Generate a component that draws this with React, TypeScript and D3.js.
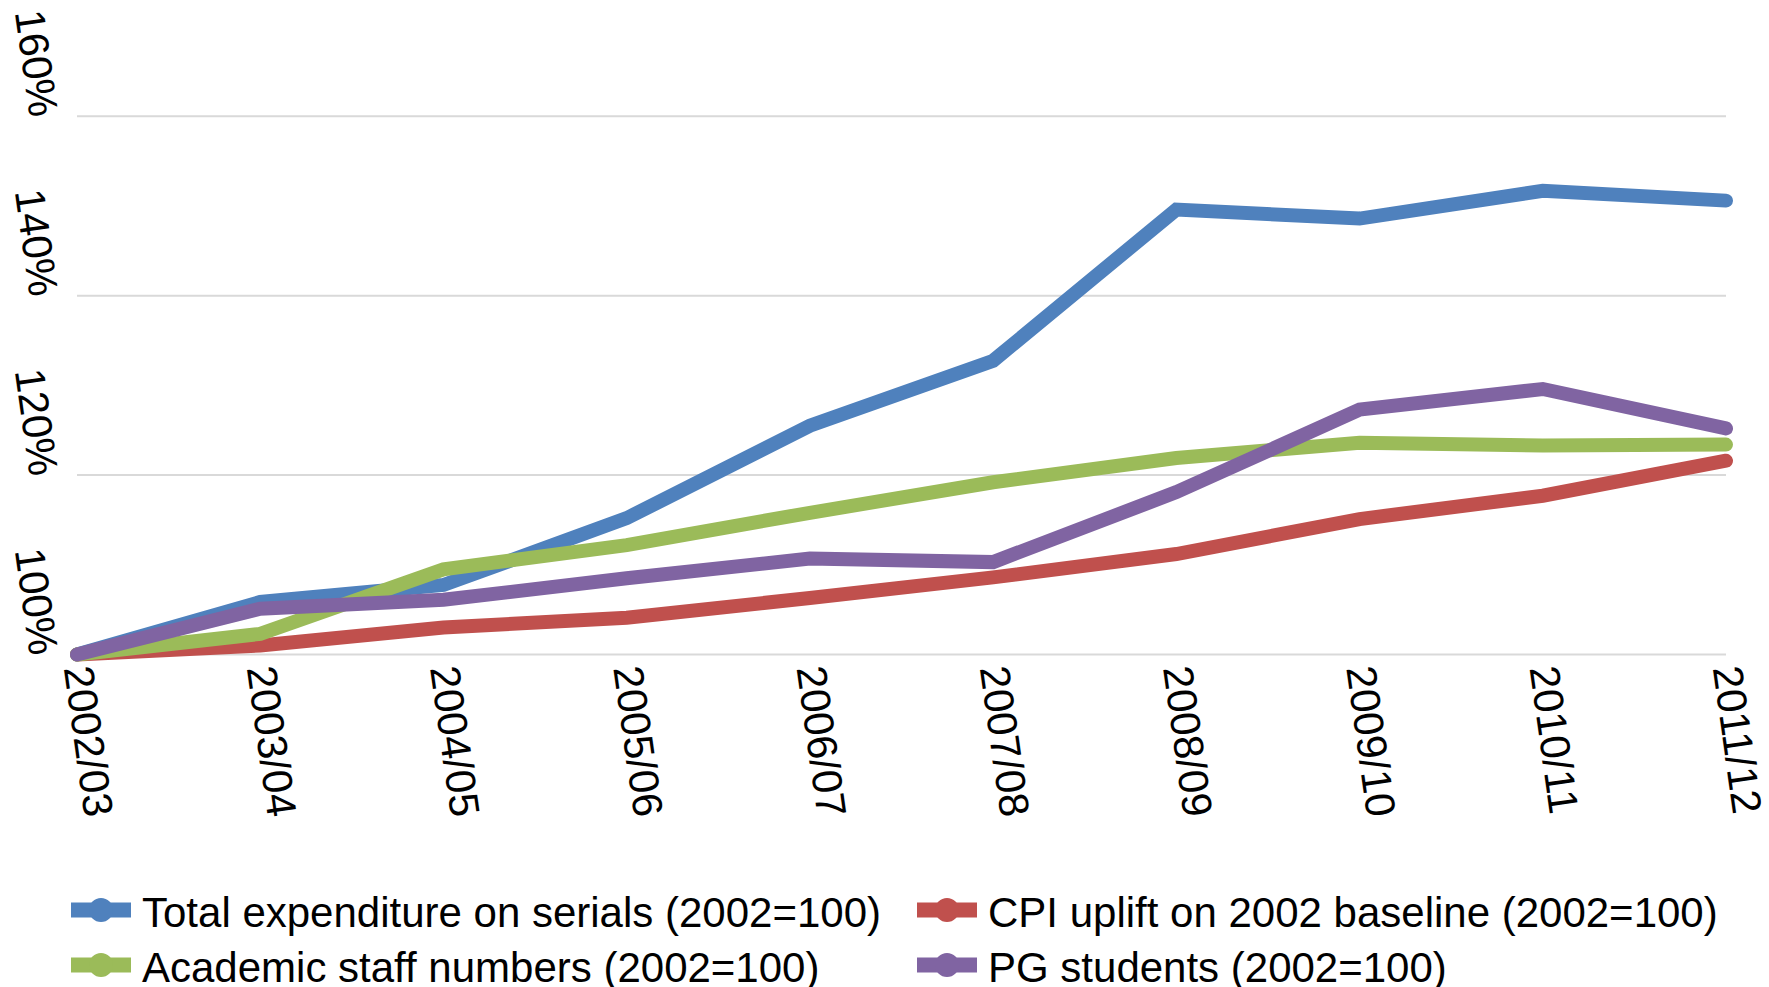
import React from "react";
import * as d3 from "d3";

const categories = ["2002/03","2003/04","2004/05","2005/06","2006/07","2007/08","2008/09","2009/10","2010/11","2011/12"];
const totalExpenditure = [100, 105.85, 107.75, 115.2, 125.5, 132.75, 149.6, 148.6, 151.7, 150.6];
const cpiUplift = [100, 101.0, 103.0, 104.1, 106.3, 108.6, 111.2, 115.1, 117.7, 121.6];
const academicStaff = [100, 102.3, 109.5, 112.2, 115.8, 119.2, 121.9, 123.6, 123.3, 123.4];
const pgStudents = [100, 105.1, 106.1, 108.5, 110.7, 110.3, 118.1, 127.3, 129.6, 125.2];
const yTicks = [100, 120, 140, 160];
const seriesNames = [
  "Total expenditure on serials (2002=100)",
  "CPI uplift on 2002 baseline (2002=100)",
  "Academic staff numbers (2002=100)",
  "PG students (2002=100)",
];
const seriesColors = ["#4F81BD", "#C0504D", "#9BBB59", "#8064A2"];

const W = 1769;
const H = 987;
const FONT = "'Liberation Sans', Arial, sans-serif";

export default function App() {
  const x = d3.scalePoint<string>().domain(categories).range([77, 1726]);
  const y = d3.scaleLinear().domain([100, 160]).range([654.5, 116.3]);
  const seriesData = [totalExpenditure, cpiUplift, academicStaff, pgStudents];
  const line = d3
    .line<number>()
    .x((_, i) => x(categories[i]) as number)
    .y((d) => y(d));

  const legendItems = [
    { i: 0, mx: 71, tx: 142, cy: 910 },
    { i: 1, mx: 917, tx: 988, cy: 910 },
    { i: 2, mx: 71, tx: 142, cy: 965 },
    { i: 3, mx: 917, tx: 988, cy: 965 },
  ];

  return (
    <svg
      width={W}
      height={H}
      style={{ position: "absolute", left: 0, top: 0, background: "#fff" }}
      fontFamily={FONT}
    >
      <rect x={0} y={0} width={W} height={H} fill="#fff" />
      {yTicks.map((t) => (
        <line
          key={"g" + t}
          x1={x(categories[0])}
          x2={x(categories[categories.length - 1])}
          y1={y(t)}
          y2={y(t)}
          stroke="#d9d9d9"
          strokeWidth={2}
        />
      ))}
      {yTicks.map((t) => (
        <text
          key={"yl" + t}
          transform={`translate(44,${y(t)}) rotate(82)`}
          textAnchor="end"
          dominantBaseline="central"
          fontSize={42}
          fill="#000"
        >
          {t + "%"}
        </text>
      ))}
      {categories.map((c) => (
        <text
          key={"xl" + c}
          transform={`translate(${(x(c) as number) + 1},666) rotate(82)`}
          textAnchor="start"
          dominantBaseline="central"
          fontSize={42}
          fill="#000"
        >
          {c}
        </text>
      ))}
      {seriesData.map((s, i) => (
        <path
          key={"s" + i}
          d={line(s) || ""}
          fill="none"
          stroke={seriesColors[i]}
          strokeWidth={14}
          strokeLinecap="round"
          strokeLinejoin="miter"
        />
      ))}
      {legendItems.map((it) => (
        <g key={"lg" + it.i}>
          <rect x={it.mx} y={it.cy - 7.5} width={60} height={15} fill={seriesColors[it.i]} />
          <circle cx={it.mx + 30} cy={it.cy} r={12} fill={seriesColors[it.i]} />
          <text x={it.tx} y={it.cy + 16.5} fontSize={42} fill="#000">
            {seriesNames[it.i]}
          </text>
        </g>
      ))}
    </svg>
  );
}
